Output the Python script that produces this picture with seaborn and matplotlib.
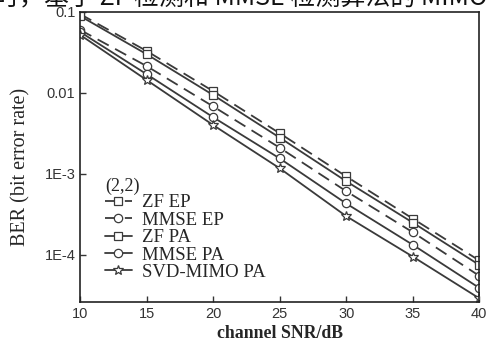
import numpy as np
import pandas as pd
import matplotlib
matplotlib.use("Agg")
import matplotlib.pyplot as plt
import seaborn as sns

# SNR points (dB)
snr = [10, 15, 20, 25, 30, 35, 40]

# BER values
zf_ep = [0.094, 0.0329, 0.0105, 3.17e-3, 9.3e-4, 2.8e-4, 8.5e-5]
mmse_ep = [0.060, 0.0214, 6.8e-3, 2.1e-3, 6.1e-4, 1.9e-4, 5.5e-5]
zf_pa = [0.089, 0.030, 9.4e-3, 2.8e-3, 8.1e-4, 2.5e-4, 7.5e-5]
mmse_pa = [0.0565, 0.017, 5.0e-3, 1.55e-3, 4.3e-4, 1.33e-4, 3.9e-5]
svd_pa = [0.052, 0.0144, 4.0e-3, 1.17e-3, 3.0e-4, 9.5e-5, 2.9e-5]

series_names = ["ZF EP", "MMSE EP", "ZF PA", "MMSE PA", "SVD-MIMO PA"]
series_values = [zf_ep, mmse_ep, zf_pa, mmse_pa, svd_pa]
y_ticks = [0.1, 0.01, 1e-3, 1e-4]
y_tick_labels = ["0.1", "0.01", "1E-3", "1E-4"]

styles = {
    "ZF EP": ("s", (0, (7, 4))),
    "MMSE EP": ("o", (0, (7, 4))),
    "ZF PA": ("s", "-"),
    "MMSE PA": ("o", "-"),
    "SVD-MIMO PA": ("*", "-"),
}

sns.set_style("ticks")
plt.rcParams["font.family"] = ["Liberation Sans", "DejaVu Sans"]

fig = plt.figure(figsize=(4.86, 3.41), dpi=100)
ax = fig.add_axes([0.165, 0.114, 0.821, 0.851])

line_col = "#3a3a3a"
for name, vals in zip(series_names, series_values):
    mk, ls = styles[name]
    sns.lineplot(x=snr, y=vals, ax=ax, color=line_col, linestyle=ls,
                 marker=mk, markersize=6 if mk != "*" else 7,
                 markerfacecolor="white", markeredgecolor=line_col,
                 markeredgewidth=0.9, linewidth=1.3, label=name)

ax.set_yscale("log")
ax.set_xlim(10, 40)
ax.set_ylim(2.6e-5, 0.1)
ax.set_xticks([10, 15, 20, 25, 30, 35, 40])
ax.set_yticks(y_ticks)
ax.set_yticklabels(y_tick_labels)
ax.minorticks_off()
ax.tick_params(axis="both", direction="in", length=4, labelsize=10.5,
               colors="#333333", width=1)
for s in ax.spines.values():
    s.set_visible(True)
    s.set_color("#222222")
    s.set_linewidth(1.2)

ax.set_xlabel("channel SNR/dB", family="Liberation Serif", fontsize=12.8,
              fontweight="bold", labelpad=3)
ax.set_ylabel("BER (bit error rate)", family="Liberation Serif", fontsize=14.5,
              labelpad=10)
ax.yaxis.label.set_y(0.466)

leg = ax.legend(loc="upper left", bbox_to_anchor=(0.063, 0.372), frameon=False,
                prop={"family": "Liberation Serif", "size": 13.5},
                handlelength=1.4, handletextpad=0.55, labelspacing=0.015,
                borderaxespad=0, borderpad=0)
ax.text(0.063, 0.4, "(2,2)", transform=ax.transAxes, va="center",
        family="Liberation Serif", fontsize=13)

fig.text(-0.012, 1.008, "时，基于 ZF 检测和 MMSE 检测算法的 MIMO",
         family=["Noto Sans CJK SC", "DejaVu Sans"], fontsize=18,
         ha="left", va="center", color="#111111")

fig.savefig("out.png", dpi=100)
